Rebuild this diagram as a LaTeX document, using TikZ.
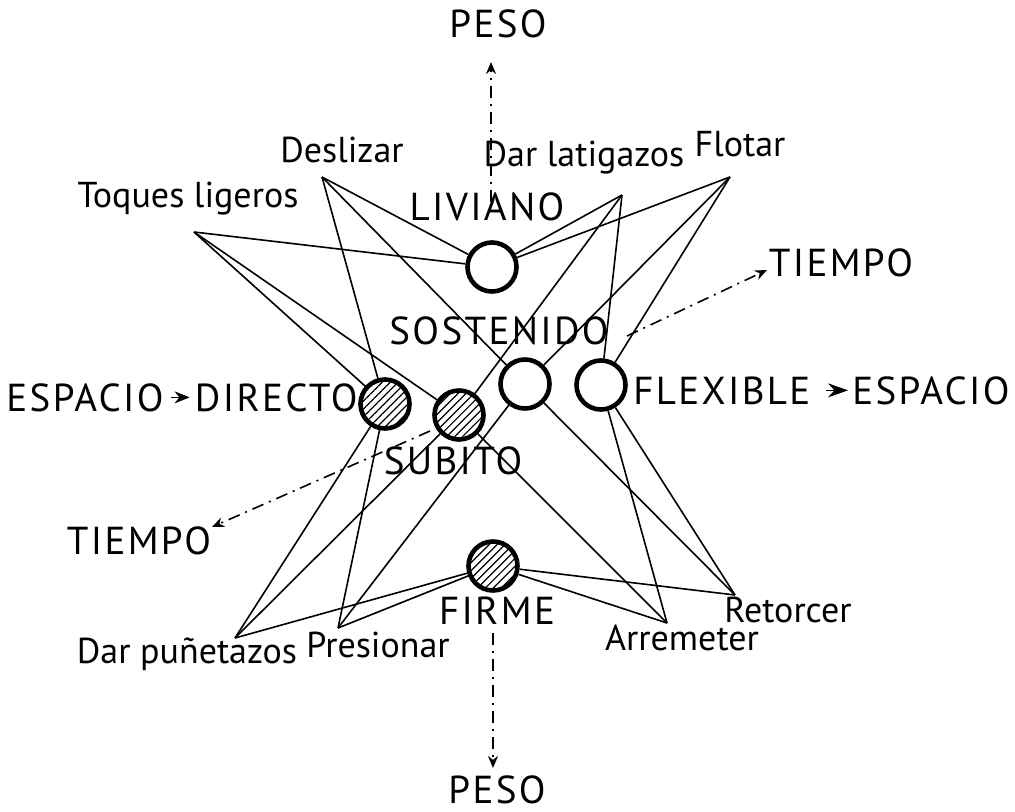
\documentclass[tikz,border=0pt]{standalone}
\usepackage{fontspec}
\setmainfont{PT Sans}
\newfontfamily\capsfont[LetterSpace=6]{PT Sans}
\usetikzlibrary{arrows.meta,patterns.meta}

\begin{document}
\begin{tikzpicture}[x=0.5pt, y=-0.5pt,
    hollow/.style={circle, draw, line width=2.3pt, minimum size=24.5pt, inner sep=0pt},
    hatched/.style={hollow, pattern={Lines[angle=45, distance=2.8pt, line width=0.6pt]}},
    txt/.style={font=\fontsize{18}{22}\selectfont, inner sep=0pt},
    caps/.style={font=\capsfont\fontsize{19.5}{22}\selectfont, inner sep=0pt},
    link/.style={line width=0.8pt},
    axis/.style={line width=0.8pt, dash pattern=on 6pt off 3pt on 1pt off 3pt, -{Stealth[length=6pt, width=5pt]}},
    headonly/.style={-{Stealth[length=7.5pt, width=6pt]}}]
    \useasboundingbox (0,0) rectangle (1015,812);

    % effort nodes
    \node[hollow]  at (492,267) (11) {};
    \node[hollow]  at (525,384) (12) {};
    \node[hollow]  at (601,385) (13) {};
    \node[hatched] at (385,404) (14) {};
    \node[hatched] at (459,415) (15) {};
    \node[hatched] at (493,566) (16) {};
    % action points
    \coordinate (21) at (322,177);
    \coordinate (22) at (194,232);
    \coordinate (23) at (622,195);
    \coordinate (24) at (730,177);
    \coordinate (25) at (235,638);
    \coordinate (26) at (338,628);
    \coordinate (27) at (667,623);
    \coordinate (28) at (735,595);

    % effort labels
    \node[caps, anchor=base]      at (487,221) (31) {LIVIANO};
    \node[caps, anchor=base]      at (499,344) (32) {SOSTENIDO};
    \node[caps, anchor=base west] at (633,404) (33) {FLEXIBLE};
    \node[caps, anchor=base east] at (358,411) (34) {DIRECTO};
    \node[caps, anchor=base]      at (453,474) (35) {SUBITO};
    \node[caps, anchor=base]      at (497,624) (36) {FIRME};
    % action labels
    \node[txt, anchor=base] at (342,163) (41) {Deslizar};
    \node[txt, anchor=base] at (188,208) (42) {Toques ligeros};
    \node[txt, anchor=base] at (584,167) (43) {Dar latigazos};
    \node[txt, anchor=base] at (740,157) (44) {Flotar};
    \node[txt, anchor=base] at (187,663) (45) {Dar puñetazos};
    \node[txt, anchor=base] at (378,657) (46) {Presionar};
    \node[txt, anchor=base] at (682,650) (47) {Arremeter};
    \node[txt, anchor=base] at (788,622) (48) {Retorcer};
    % factor labels
    \node[caps, anchor=base]      at (498,38)  (51) {PESO};
    \node[caps, anchor=base]      at (497,803) (52) {PESO};
    \node[caps, anchor=base]      at (841,277) (53) {TIEMPO};
    \node[caps, anchor=base]      at (139,554) (54) {TIEMPO};
    \node[caps, anchor=base east] at (164,411) (55) {ESPACIO};
    \node[caps, anchor=base west] at (852,404) (56) {ESPACIO};

    % light actions
    \path[draw, link] (21) edge (11) edge (14) edge (12);
    \path[draw, link] (22) edge (11) edge (14) edge (15);
    \path[draw, link] (23) edge (11) edge (15) edge (13);
    \path[draw, link] (24) edge (11) edge (12) edge (13);
    % strong actions
    \path[draw, link] (25) edge (16) edge (14) edge (15);
    \path[draw, link] (26) edge (16) edge (14) edge (12);
    \path[draw, link] (27) edge (16) edge (15) edge (13);
    \path[draw, link] (28) edge (16) edge (12) edge (13);

    % factor axes
    \coordinate (61) at (491,202);
    \coordinate (62) at (491,62);
    \coordinate (63) at (493,633);
    \coordinate (64) at (493,768);
    \coordinate (65) at (627,336);
    \coordinate (66) at (767,270);
    \coordinate (67) at (430,431);
    \coordinate (68) at (212,527);
    \draw[axis] (61) -- (62);
    \draw[axis] (63) -- (64);
    \draw[axis] (65) -- (66);
    \draw[axis] (67) -- (68);
    \draw[headonly, shorten <=3.5pt, shorten >=2.5pt] (55) -- (34);
    \draw[-{Stealth[length=10pt, width=7pt]}, shorten <=7.5pt, shorten >=2pt] (33) -- (56);
\end{tikzpicture}
\end{document}
